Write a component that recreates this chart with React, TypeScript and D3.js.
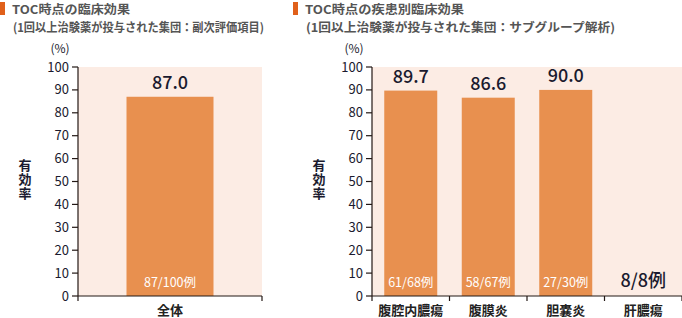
import React from "react";
import * as d3 from "d3";

const yTicks = [0, 10, 20, 30, 40, 50, 60, 70, 80, 90, 100];

const leftCategories = ["全体"];
const leftValues = [87.0];
const leftCounts = ["87/100例"];

const rightCategories = ["腹腔内膿瘍", "腹膜炎", "胆嚢炎", "肝膿瘍"];
const rightValues: (number | null)[] = [89.7, 86.6, 90.0, null];
const rightCounts = ["61/68例", "58/67例", "27/30例", "8/8例"];

const leftTitle1 = "TOC時点の臨床効果";
const leftTitle2 = "(1回以上治験薬が投与された集団：副次評価項目)";
const rightTitle1 = "TOC時点の疾患別臨床効果";
const rightTitle2 = "(1回以上治験薬が投与された集団：サブグループ解析)";
const yTitle = "有効率";

const FONT = "'Noto Sans CJK JP', 'Noto Sans', sans-serif";
const BAR = "#e8904f";
const BG = "#fcece4";
const AXIS = "#231815";
const TEXT = "#1a1a2e";

type PanelProps = {
  x0: number;
  x1: number;
  categories: string[];
  values: (number | null)[];
  counts: string[];
  barWidth: number;
  title1: string;
  title2: string;
  titleX: number;
  t1Len: number;
  t2Len: number;
  yTitleX: number;
};

function Panel(p: PanelProps) {
  const y = d3.scaleLinear().domain([0, 100]).range([296, 67]);
  const x = d3.scaleBand().domain(p.categories).range([p.x0, p.x1]);
  const ticksX = p.categories.map((c) => x(c)!).concat([p.x1]);
  return (
    <g fontFamily={FONT}>
      <rect x={p.titleX} y={2} width={5} height={13} fill="#e0601a" />
      <text x={p.titleX + 12} y={14} fontSize={12} fontWeight="bold" fill="#555"
        textLength={p.t1Len} lengthAdjust="spacingAndGlyphs">{p.title1}</text>
      <text x={p.titleX + 13} y={32} fontSize={12} fontWeight="bold" fill="#555"
        textLength={p.t2Len} lengthAdjust="spacingAndGlyphs">{p.title2}</text>
      <text x={p.x0 - 18} y={53} fontSize={12} fill={TEXT} textAnchor="middle">(%)</text>
      <rect x={p.x0} y={y(100)} width={p.x1 - p.x0} height={y(0) - y(100)} fill={BG} />
      {p.categories.map((c, i) => {
        const v = p.values[i];
        const cx = x(c)! + x.bandwidth() / 2;
        if (v == null) {
          return (
            <text key={c} x={cx} y={287} fontSize={18} fontWeight={500} textAnchor="middle" fill={TEXT}>{p.counts[i]}</text>
          );
        }
        return (
          <g key={c}>
            <rect x={cx - p.barWidth / 2} y={y(v)} width={p.barWidth} height={y(0) - y(v)} fill={BAR} />
            <text x={cx} y={y(v) - 8} fontSize={18} fontWeight={500} textAnchor="middle" fill={TEXT}>{v.toFixed(1)}</text>
            <text x={cx} y={287} fontSize={12.5} textAnchor="middle" fill="#fff">{p.counts[i]}</text>
          </g>
        );
      })}
      <line x1={p.x0} x2={p.x0} y1={y(100)} y2={y(0)} stroke={AXIS} strokeWidth={1.2} />
      {yTicks.map((t) => (
        <g key={t}>
          <line x1={p.x0 - 6} x2={p.x0} y1={y(t)} y2={y(t)} stroke={AXIS} strokeWidth={1.2} />
          <text x={p.x0 - 9} y={y(t) + 4.5} fontSize={13} textAnchor="end" fill={TEXT}>{t}</text>
        </g>
      ))}
      <line x1={p.x0} x2={p.x1} y1={y(0)} y2={y(0)} stroke={AXIS} strokeWidth={1.2} />
      {ticksX.map((tx, i) => (
        <line key={i} x1={tx} x2={tx} y1={y(0)} y2={y(0) + 5} stroke={AXIS} strokeWidth={1.2} />
      ))}
      {p.categories.map((c) => (
        <text key={c} x={x(c)! + x.bandwidth() / 2} y={315} fontSize={13} fontWeight="bold" textAnchor="middle" fill="#222">{c}</text>
      ))}
      <text x={p.yTitleX} y={159} fontSize={13} fontWeight="bold" fill={TEXT}
        style={{ writingMode: "vertical-rl" as any, letterSpacing: "1px" }}>{yTitle}</text>
    </g>
  );
}

export default function App() {
  return (
    <svg width={682} height={318} style={{ position: "absolute", left: 0, top: 0, background: "#fff" }}>
      <Panel
        x0={78}
        x1={262}
        categories={leftCategories}
        values={leftValues}
        counts={leftCounts}
        barWidth={87}
        title1={leftTitle1}
        title2={leftTitle2}
        titleX={0}
        t1Len={118}
        t2Len={251}
        yTitleX={25}
      />
      <Panel
        x0={372}
        x1={682}
        categories={rightCategories}
        values={rightValues}
        counts={rightCounts}
        barWidth={53}
        title1={rightTitle1}
        title2={rightTitle2}
        titleX={293}
        t1Len={159}
        t2Len={309}
        yTitleX={319}
      />
    </svg>
  );
}
